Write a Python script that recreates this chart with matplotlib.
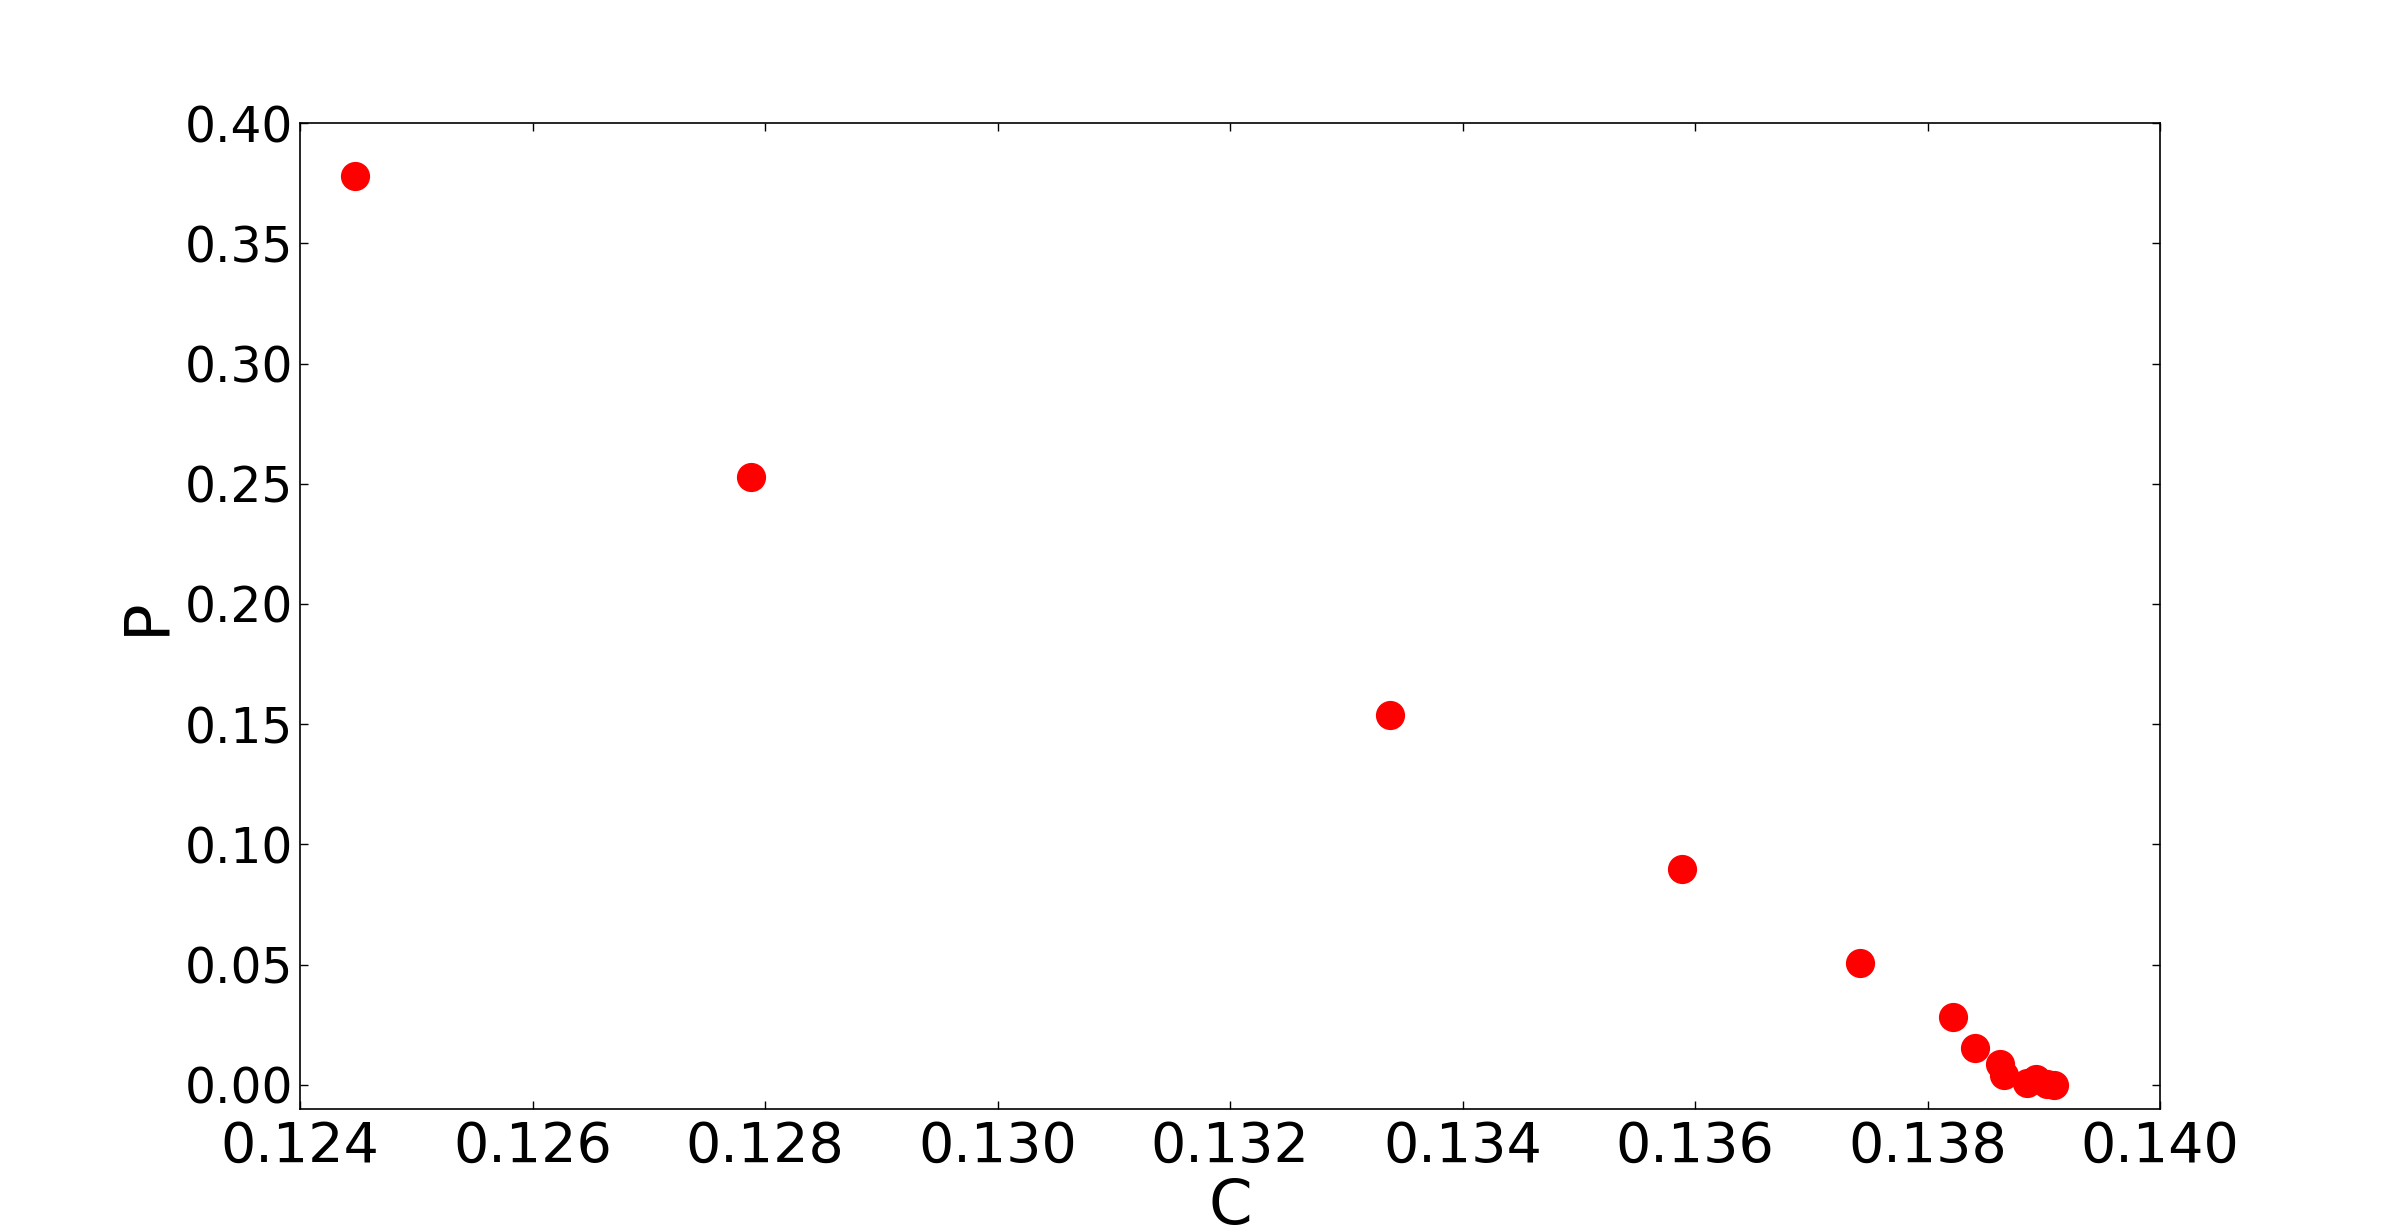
import matplotlib
matplotlib.use("Agg")
import matplotlib.pyplot as plt

C = [0.12447, 0.12788, 0.13338, 0.13589, 0.13742, 0.13822, 0.13841,
     0.13862, 0.13866, 0.13886, 0.13893, 0.13903, 0.13909]
P = [0.3779, 0.2529, 0.1540, 0.0896, 0.0508, 0.0283, 0.0153,
     0.0086, 0.0040, 0.0008, 0.0024, 0.0002, 0.0000]

xticks = [0.124, 0.126, 0.128, 0.130, 0.132, 0.134, 0.136, 0.138, 0.140]
yticks = [0.00, 0.05, 0.10, 0.15, 0.20, 0.25, 0.30, 0.35, 0.40]

plt.rcParams['font.family'] = ['DejaVu Sans']
fig = plt.figure(figsize=(24, 12.32), dpi=100)
ax = fig.add_axes([0.125, 0.1, 0.775, 0.8])
ax.plot(C, P, 'o', color='#ff0000', markeredgecolor='#ff0000', markersize=20, linestyle='none')
ax.set_xlim(0.124, 0.140)
ax.set_ylim(-0.01, 0.40)
ax.set_xticks(xticks)
ax.set_xticklabels([f"{v:.3f}" for v in xticks])
ax.set_yticks(yticks)
ax.set_yticklabels([f"{v:.2f}" for v in yticks])
ax.tick_params(direction='in', top=True, right=True, length=5.5, width=1)
ax.tick_params(axis='x', labelsize=40, pad=8)
ax.tick_params(axis='y', labelsize=35, pad=5)
for s in ax.spines.values():
    s.set_linewidth(1.2)
ax.set_xlabel('C', fontsize=45, labelpad=2)
ax.set_ylabel('P', fontsize=45, labelpad=6)
fig.savefig('out.png', dpi=100, facecolor='white')
